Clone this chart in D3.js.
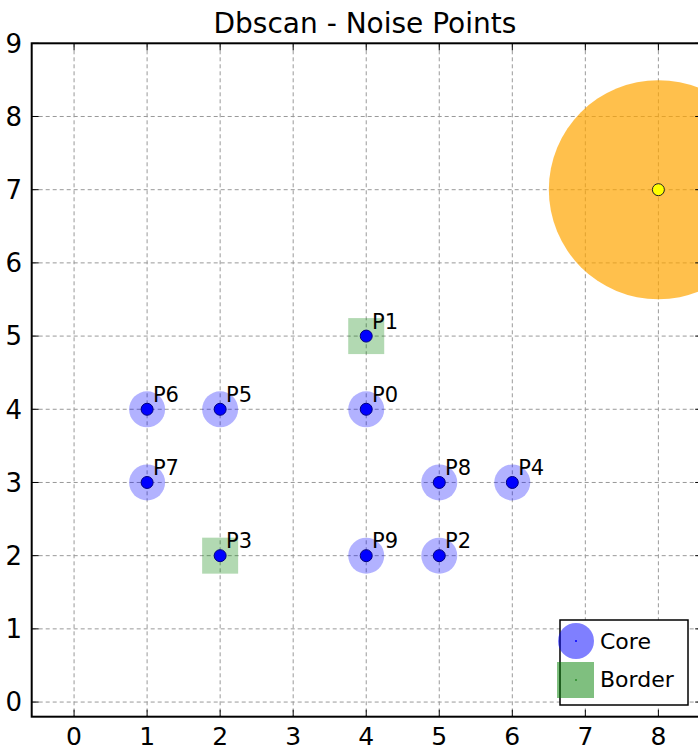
<!DOCTYPE html>
<html>
<head>
<meta charset="utf-8">
<script src="https://d3js.org/d3.v7.min.js"></script>
<style>
  html, body { margin: 0; padding: 0; background: #fff; }
  svg { display: block; font-family: "DejaVu Sans", sans-serif; }
</style>
</head>
<body>
<svg id="chart" width="698" height="750"></svg>
<script>
// Point labels and coordinates
const labels = ["P0", "P1", "P2", "P3", "P4", "P5", "P6", "P7", "P8", "P9"];
const xs = [4, 4, 5, 2, 6, 2, 1, 1, 5, 4];
const ys = [4, 5, 2, 2, 3, 4, 4, 3, 3, 2];
const kinds = ["core", "border", "core", "border", "core", "core", "core", "core", "core", "core"];

// Noise point and its eps neighbourhood
const noiseX = [8];
const noiseY = [7];
const eps = 1.5;

const xTicks = [0, 1, 2, 3, 4, 5, 6, 7, 8];
const yTicks = [0, 1, 2, 3, 4, 5, 6, 7, 8, 9];
const legendItems = ["Core", "Border"];

(function () {
const svg = d3.select("#chart");
const pl = 31.7, pr = 702.2, pt = 43.3, pb = 716.7;
const x = d3.scaleLinear().domain([-0.58, 8.6]).range([pl, pr]);
const y = d3.scaleLinear().domain([-0.2, 9]).range([pb, pt]);

svg.append("defs").append("clipPath").attr("id", "plot")
  .append("rect").attr("x", pl).attr("y", pt)
  .attr("width", pr - pl).attr("height", pb - pt);

const plot = svg.append("g").attr("clip-path", "url(#plot)");

// grid
plot.append("g").selectAll("line").data(xTicks).join("line")
  .attr("x1", d => x(d)).attr("x2", d => x(d))
  .attr("y1", pt).attr("y2", pb)
  .attr("stroke", "#999").attr("stroke-width", 1).attr("stroke-dasharray", "4,3");
plot.append("g").selectAll("line").data(yTicks).join("line")
  .attr("y1", d => y(d)).attr("y2", d => y(d))
  .attr("x1", pl).attr("x2", pr)
  .attr("stroke", "#999").attr("stroke-width", 1).attr("stroke-dasharray", "4,3");

// eps neighbourhood around noise points
const noise = noiseX.map((v, i) => ({ x: v, y: noiseY[i] }));
plot.append("g").selectAll("circle").data(noise).join("circle")
  .attr("cx", d => x(d.x)).attr("cy", d => y(d.y))
  .attr("r", x(eps) - x(0))
  .attr("fill", "orange").attr("fill-opacity", 0.7);
plot.append("g").selectAll("circle").data(noise).join("circle")
  .attr("cx", d => x(d.x)).attr("cy", d => y(d.y))
  .attr("r", 6)
  .attr("fill", "yellow").attr("stroke", "#222").attr("stroke-width", 1);

const pts = labels.map((l, i) => ({ label: l, x: xs[i], y: ys[i], kind: kinds[i] }));

// core halos
plot.append("g").selectAll("circle").data(pts.filter(d => d.kind === "core")).join("circle")
  .attr("cx", d => x(d.x)).attr("cy", d => y(d.y)).attr("r", 18)
  .attr("fill", "blue").attr("fill-opacity", 0.3);
// border squares
plot.append("g").selectAll("rect").data(pts.filter(d => d.kind === "border")).join("rect")
  .attr("x", d => x(d.x) - 18).attr("y", d => y(d.y) - 18)
  .attr("width", 36).attr("height", 36)
  .attr("fill", "green").attr("fill-opacity", 0.3);
// point dots
plot.append("g").selectAll("circle").data(pts).join("circle")
  .attr("cx", d => x(d.x)).attr("cy", d => y(d.y)).attr("r", 6)
  .attr("fill", "blue").attr("stroke", "#000080").attr("stroke-width", 1);
// labels
plot.append("g").selectAll("text").data(pts).join("text")
  .attr("x", d => x(d.x + 0.08)).attr("y", d => y(d.y + 0.1))
  .attr("font-size", 21).attr("fill", "#000")
  .text(d => d.label);

// ticks (inside, on all sides)
const tk = 7;
const axes = svg.append("g").attr("stroke", "#000").attr("stroke-width", 1);
xTicks.forEach(t => {
  axes.append("line").attr("x1", x(t)).attr("x2", x(t)).attr("y1", pb).attr("y2", pb - tk);
  axes.append("line").attr("x1", x(t)).attr("x2", x(t)).attr("y1", pt).attr("y2", pt + tk);
});
yTicks.forEach(t => {
  axes.append("line").attr("y1", y(t)).attr("y2", y(t)).attr("x1", pl).attr("x2", pl + tk);
  axes.append("line").attr("y1", y(t)).attr("y2", y(t)).attr("x1", pr).attr("x2", pr - tk);
});

// spines
svg.append("rect").attr("x", pl).attr("y", pt)
  .attr("width", pr - pl).attr("height", pb - pt)
  .attr("fill", "none").attr("stroke", "#000").attr("stroke-width", 2);

// tick labels
svg.append("g").selectAll("text").data(xTicks).join("text")
  .attr("x", d => x(d)).attr("y", 745)
  .attr("text-anchor", "middle").attr("font-size", 25).attr("fill", "#000")
  .text(d => d);
svg.append("g").selectAll("text").data(yTicks).join("text")
  .attr("x", 22).attr("y", d => y(d)).attr("dy", "0.36em")
  .attr("text-anchor", "end").attr("font-size", 26).attr("fill", "#000")
  .text(d => d);

// title
svg.append("text").attr("x", (pl + pr) / 2 - 2).attr("y", 33)
  .attr("text-anchor", "middle").attr("font-size", 28).attr("fill", "#000")
  .text("Dbscan - Noise Points");

// legend
const lg = svg.append("g");
lg.append("rect").attr("x", 560).attr("y", 620).attr("width", 128).attr("height", 85)
  .attr("fill", "#fff").attr("stroke", "#000").attr("stroke-width", 1.5);
lg.append("circle").attr("cx", 576).attr("cy", 641).attr("r", 18)
  .attr("fill", "blue").attr("fill-opacity", 0.5);
lg.append("circle").attr("cx", 576).attr("cy", 641).attr("r", 1)
  .attr("fill", "blue");
lg.append("rect").attr("x", 557).attr("y", 662).attr("width", 37).attr("height", 36)
  .attr("fill", "green").attr("fill-opacity", 0.5);
lg.append("circle").attr("cx", 576).attr("cy", 680).attr("r", 1)
  .attr("fill", "#2a8a2a");
lg.selectAll("text.item").data(legendItems).join("text").attr("class", "item")
  .attr("x", 600).attr("y", (d, i) => i === 0 ? 649 : 687)
  .attr("font-size", 22).attr("fill", "#000")
  .text(d => d);
})();
</script>
</body>
</html>
